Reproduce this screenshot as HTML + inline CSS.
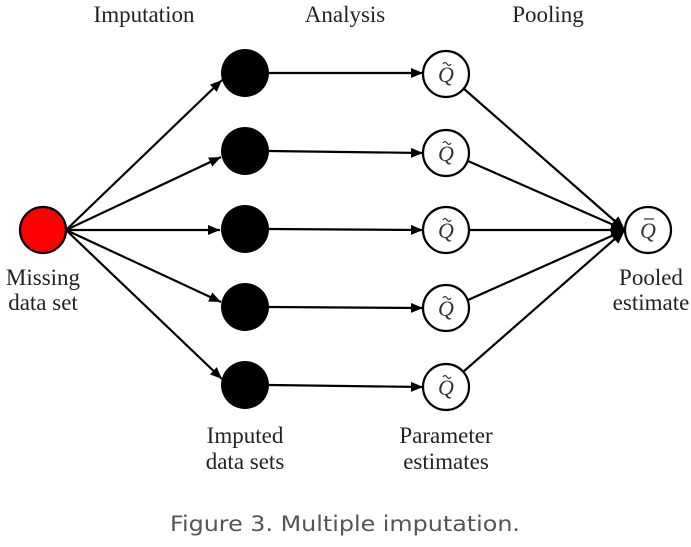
<!DOCTYPE html>
<html><head><meta charset="utf-8"><style>html,body{margin:0;padding:0;background:#fff}svg{display:block}</style></head>
<body>
<svg width="691" height="547" viewBox="0 0 691 547" xmlns="http://www.w3.org/2000/svg">
<defs>
<marker id="a" markerWidth="12" markerHeight="10" refX="12" refY="5" orient="auto" markerUnits="userSpaceOnUse">
<path d="M0,0 L12,5 L0,10 z" fill="#000"/></marker>
<marker id="b" markerWidth="14" markerHeight="12" refX="14" refY="6" orient="auto" markerUnits="userSpaceOnUse">
<path d="M0,0 L14,6 L0,12 z" fill="#000"/></marker>
</defs>
<g font-family="Liberation Serif, serif" font-size="23" fill="#222" text-anchor="middle">
<text x="144" y="22">Imputation</text>
<text x="345" y="22">Analysis</text>
<text x="548" y="22">Pooling</text>
<text x="43" y="285">Missing</text>
<text x="43" y="310">data set</text>
<text x="245" y="443">Imputed</text>
<text x="245" y="469">data sets</text>
<text x="446" y="443">Parameter</text>
<text x="446" y="469">estimates</text>
<text x="651" y="285">Pooled</text>
<text x="651" y="310">estimate</text>
</g>
<g stroke="#000" stroke-width="2.2" fill="none">
<line x1="66" y1="230" x2="222" y2="80" marker-end="url(#a)"/>
<line x1="66" y1="230" x2="221" y2="157" marker-end="url(#a)"/>
<line x1="66" y1="230" x2="220" y2="230" marker-end="url(#a)"/>
<line x1="66" y1="230" x2="221" y2="302" marker-end="url(#a)"/>
<line x1="66" y1="230" x2="222" y2="379" marker-end="url(#a)"/>
<line x1="269" y1="73" x2="423" y2="73" marker-end="url(#a)"/>
<line x1="269" y1="151" x2="423" y2="153" marker-end="url(#a)"/>
<line x1="269" y1="229" x2="423" y2="230" marker-end="url(#a)"/>
<line x1="269" y1="307" x2="423" y2="308" marker-end="url(#a)"/>
<line x1="269" y1="385" x2="423" y2="387" marker-end="url(#a)"/>
<line x1="463" y1="88" x2="625" y2="230" marker-end="url(#b)"/>
<line x1="468" y1="161" x2="625" y2="230" marker-end="url(#b)"/>
<line x1="469" y1="230" x2="625" y2="230" marker-end="url(#b)"/>
<line x1="468" y1="300" x2="625" y2="230" marker-end="url(#b)"/>
<line x1="463" y1="372" x2="625" y2="230" marker-end="url(#b)"/>
</g>
<circle cx="43" cy="230" r="23" fill="#f00" stroke="#000" stroke-width="2.2"/>
<g fill="#000">
<circle cx="245" cy="73" r="24"/><circle cx="245" cy="151" r="24"/><circle cx="245" cy="229" r="24"/><circle cx="245" cy="307" r="24"/><circle cx="245" cy="385" r="24"/>
</g>
<g fill="#fff" stroke="#000" stroke-width="2.2">
<circle cx="446" cy="74" r="23"/><circle cx="446" cy="153" r="23"/><circle cx="446" cy="230" r="23"/><circle cx="446" cy="308" r="23"/><circle cx="446" cy="387" r="23"/>
<circle cx="648" cy="230" r="23"/>
</g>
<g font-family="Liberation Serif, serif" font-style="italic" font-size="22" fill="#333" text-anchor="middle">
<text x="446" y="82">Q</text>
<text x="446" y="161">Q</text>
<text x="446" y="238">Q</text>
<text x="446" y="316">Q</text>
<text x="446" y="395">Q</text>
<text x="648" y="238">Q</text>
</g>
<g stroke="#333" stroke-width="1.2" fill="none">
<path d="M443,64 q2,-3 4,0 t4,0"/>
<path d="M443,143 q2,-3 4,0 t4,0"/>
<path d="M443,220 q2,-3 4,0 t4,0"/>
<path d="M443,298 q2,-3 4,0 t4,0"/>
<path d="M443,377 q2,-3 4,0 t4,0"/>
<line x1="644" y1="219" x2="654" y2="219"/>
</g>
<text x="345" y="531" font-family="DejaVu Sans, sans-serif" font-size="21" fill="#555" text-anchor="middle" textLength="350" lengthAdjust="spacingAndGlyphs">Figure 3. Multiple imputation.</text>
</svg>
</body></html>
